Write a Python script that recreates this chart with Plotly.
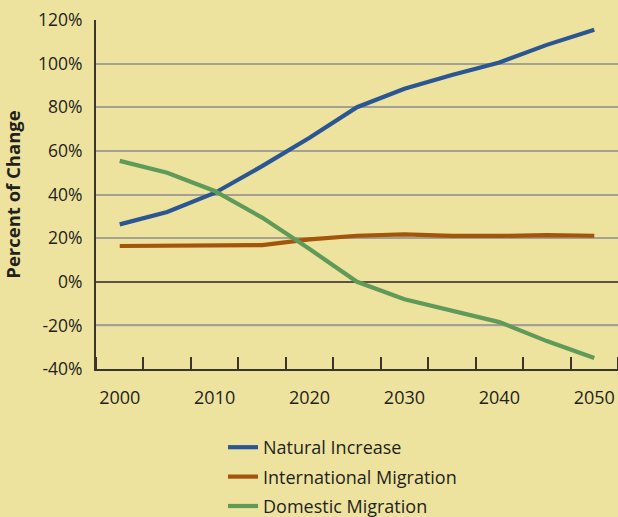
import plotly.graph_objects as go

# Projected components of population change, percent
years = [2000, 2005, 2010, 2015, 2020, 2025, 2030, 2035, 2040, 2045, 2050]
natural_increase = [26.3, 32, 40.7, 53, 66, 80, 88.5, 94.8, 100.5, 108.6, 115.5]
international_migration = [16.4, 16.4, 16.4, 16.8, 19.4, 21.1, 21.7, 21.0, 21.0, 21.4, 21.1]
domestic_migration = [55.4, 50, 41.6, 29.4, 15.0, 0, -8, -13.4, -18.5, -27.2, -35]

series_names = ["Natural Increase", "International Migration", "Domestic Migration"]
series_colors = ["#2B5694", "#A2550B", "#5F9A58"]
year_labels = [2000, 2010, 2020, 2030, 2040, 2050]
pct_ticks = [-40, -20, 0, 20, 40, 60, 80, 100, 120]

BG = "#EEE39E"
INK = "#231F1C"
FONT = "Open Sans, Noto Sans, sans-serif"

fig = go.Figure()
for name, vals, color in zip(series_names,
                             [natural_increase, international_migration, domestic_migration],
                             series_colors):
    fig.add_trace(go.Scatter(
        x=years, y=vals, name=name, mode="lines",
        line=dict(color=color, width=4.2),
        legendgroup=name,
    ))

# Lower gridline drawn in a bluish tone
fig.add_shape(type="line", xref="paper", x0=0, x1=1, yref="y", y0=-20, y1=-20,
              line=dict(color="#9EA2BE", width=1.5), layer="below")

fig.update_layout(
    width=618, height=517,
    margin=dict(l=96, r=0, t=20, b=148, autoexpand=False),
    paper_bgcolor=BG, plot_bgcolor=BG,
    font=dict(family=FONT, color=INK, size=18),
    showlegend=True,
    legend=dict(
        x=(223 - 96) / 522, xanchor="left",
        y=(369 - 429) / 349, yanchor="top",
        bgcolor="rgba(0,0,0,0)", borderwidth=0,
        font=dict(size=18, color=INK, family=FONT),
        tracegroupgap=3,
        itemwidth=30,
    ),
    xaxis=dict(
        range=[1997.5, 2052.5],
        tickmode="array", tickvals=year_labels,
        ticks="", showgrid=False, zeroline=False,
        showline=True, linecolor="#3A342C", linewidth=2,
        tickfont=dict(size=18, color=INK),
        ticklabelstandoff=11,
        minor=dict(tick0=2002.5, dtick=5, ticks="inside", ticklen=12,
                   tickwidth=1.5, tickcolor="#3A342C", showgrid=False),
    ),
    yaxis=dict(
        range=[-40, 120],
        tickmode="array", tickvals=pct_ticks,
        ticktext=[f"{v}%" for v in pct_ticks],
        ticks="", showgrid=True, gridcolor="#A3A096", gridwidth=1.5,
        zeroline=True, zerolinecolor="#5C5343", zerolinewidth=2,
        showline=True, linecolor="#3A342C", linewidth=2,
        tickfont=dict(size=17.5, color=INK),
        ticklabelstandoff=8,
        title=dict(text="<b>Percent of Change</b>", font=dict(size=18.5, color=INK),
                   standoff=14),
    ),
)

fig.write_html("out.html")
